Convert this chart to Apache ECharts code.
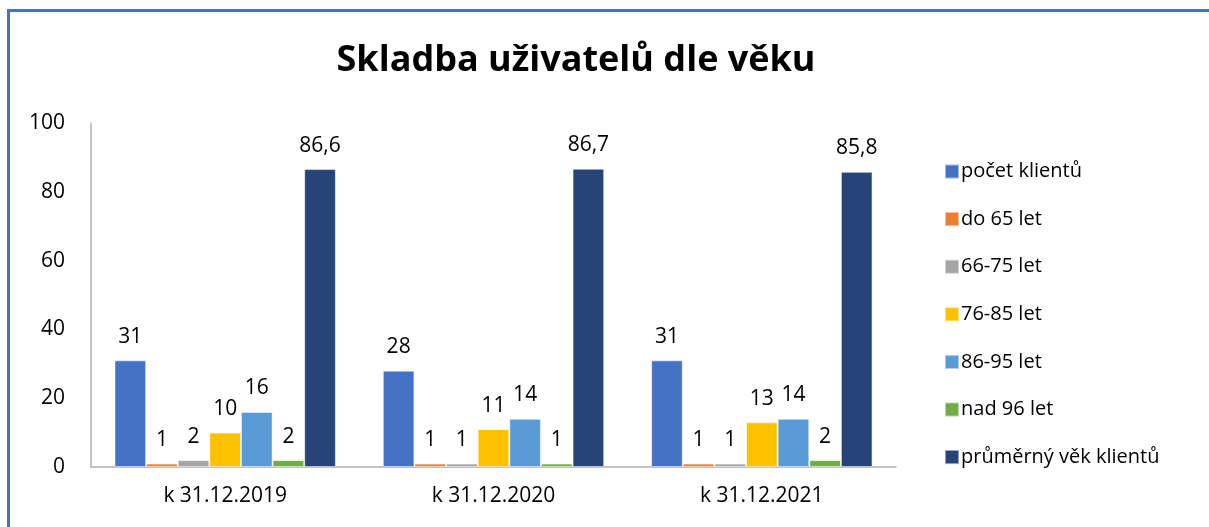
<!DOCTYPE html>
<html>
<head>
<meta charset="utf-8">
<script src="https://cdn.jsdelivr.net/npm/echarts@6/dist/echarts.min.js"></script>
<style>
  html, body { margin: 0; padding: 0; background: #fff; }
  #frame {
    position: absolute; left: 7px; top: 9px; width: 1300px; height: 600px;
    border-top: 3px solid #4472c4; border-left: 3px solid #4472c4;
  }
  #main { position: absolute; left: 0; top: 0; width: 1209px; height: 527px; }
</style>
</head>
<body>
<div id="frame"></div>
<div id="main"></div>
<script>
// data
var categories = ['k 31.12.2019', 'k 31.12.2020', 'k 31.12.2021'];
var seriesNames = ['počet klientů', 'do 65 let', '66-75 let', '76-85 let', '86-95 let', 'nad 96 let', 'průměrný věk klientů'];
var pocetKlientu = [31, 28, 31];
var do65 = [1, 1, 1];
var let66_75 = [2, 1, 1];
var let76_85 = [10, 11, 13];
var let86_95 = [16, 14, 14];
var nad96 = [2, 1, 2];
var prumernyVek = [86.6, 86.7, 85.8];
var yTicks = [0, 20, 40, 60, 80, 100];

var colors = ['#4472c4', '#ed7d31', '#a5a5a5', '#ffc000', '#5b9bd5', '#70ad47', '#264478'];
var values = [pocetKlientu, do65, let66_75, let76_85, let86_95, nad96, prumernyVek];
var font = '"Open Sans", "Noto Sans", sans-serif';

var series = [];
for (var i = 0; i < seriesNames.length; i++) {
    series.push({
        name: seriesNames[i],
        type: 'bar',
        data: values[i],
        barGap: '0%',
        barCategoryGap: '17.5%',
        itemStyle: { color: colors[i], borderColor: 'rgba(255,255,255,0.5)', borderWidth: 1 },
        label: {
            show: true,
            position: 'top',
            distance: 13,
            color: '#000',
            fontFamily: font,
            fontSize: 21,
            formatter: function (p) { return String(p.value).replace('.', ','); }
        }
    });
}

var option = {
    backgroundColor: 'transparent',
    animation: false,
    color: colors,
    title: {
        text: 'Skladba uživatelů dle věku',
        left: 571,
        textAlign: 'center',
        top: 38,
        textStyle: { fontFamily: font, fontWeight: 'bold', fontSize: 36, color: '#000' }
    },
    legend: {
        orient: 'vertical',
        left: 939,
        top: 156,
        itemWidth: 14,
        itemHeight: 14,
        itemGap: 26.6,
        icon: 'rect',
        textStyle: { fontFamily: font, fontSize: 20, lineHeight: 21, color: '#000', padding: [0, 0, 0, -3] },
        data: seriesNames
    },
    grid: { left: 91, right: 313, top: 123, bottom: 60 },
    xAxis: {
        type: 'category',
        data: categories,
        axisTick: { show: false },
        axisLine: { lineStyle: { color: '#b0b0b0', width: 1.5 } },
        axisLabel: { color: '#000', fontFamily: font, fontSize: 21, margin: 19 }
    },
    yAxis: {
        type: 'value',
        min: yTicks[0],
        max: yTicks[yTicks.length - 1],
        interval: 20,
        splitLine: { show: false },
        axisTick: { show: false },
        axisLine: { show: true, lineStyle: { color: '#b0b0b0', width: 1.5 } },
        axisLabel: { color: '#000', fontFamily: font, fontSize: 21, margin: 26 }
    },
    series: series
};

var chart = echarts.init(document.getElementById('main'), null, { renderer: 'canvas' });
chart.setOption(option);
</script>
</body>
</html>
